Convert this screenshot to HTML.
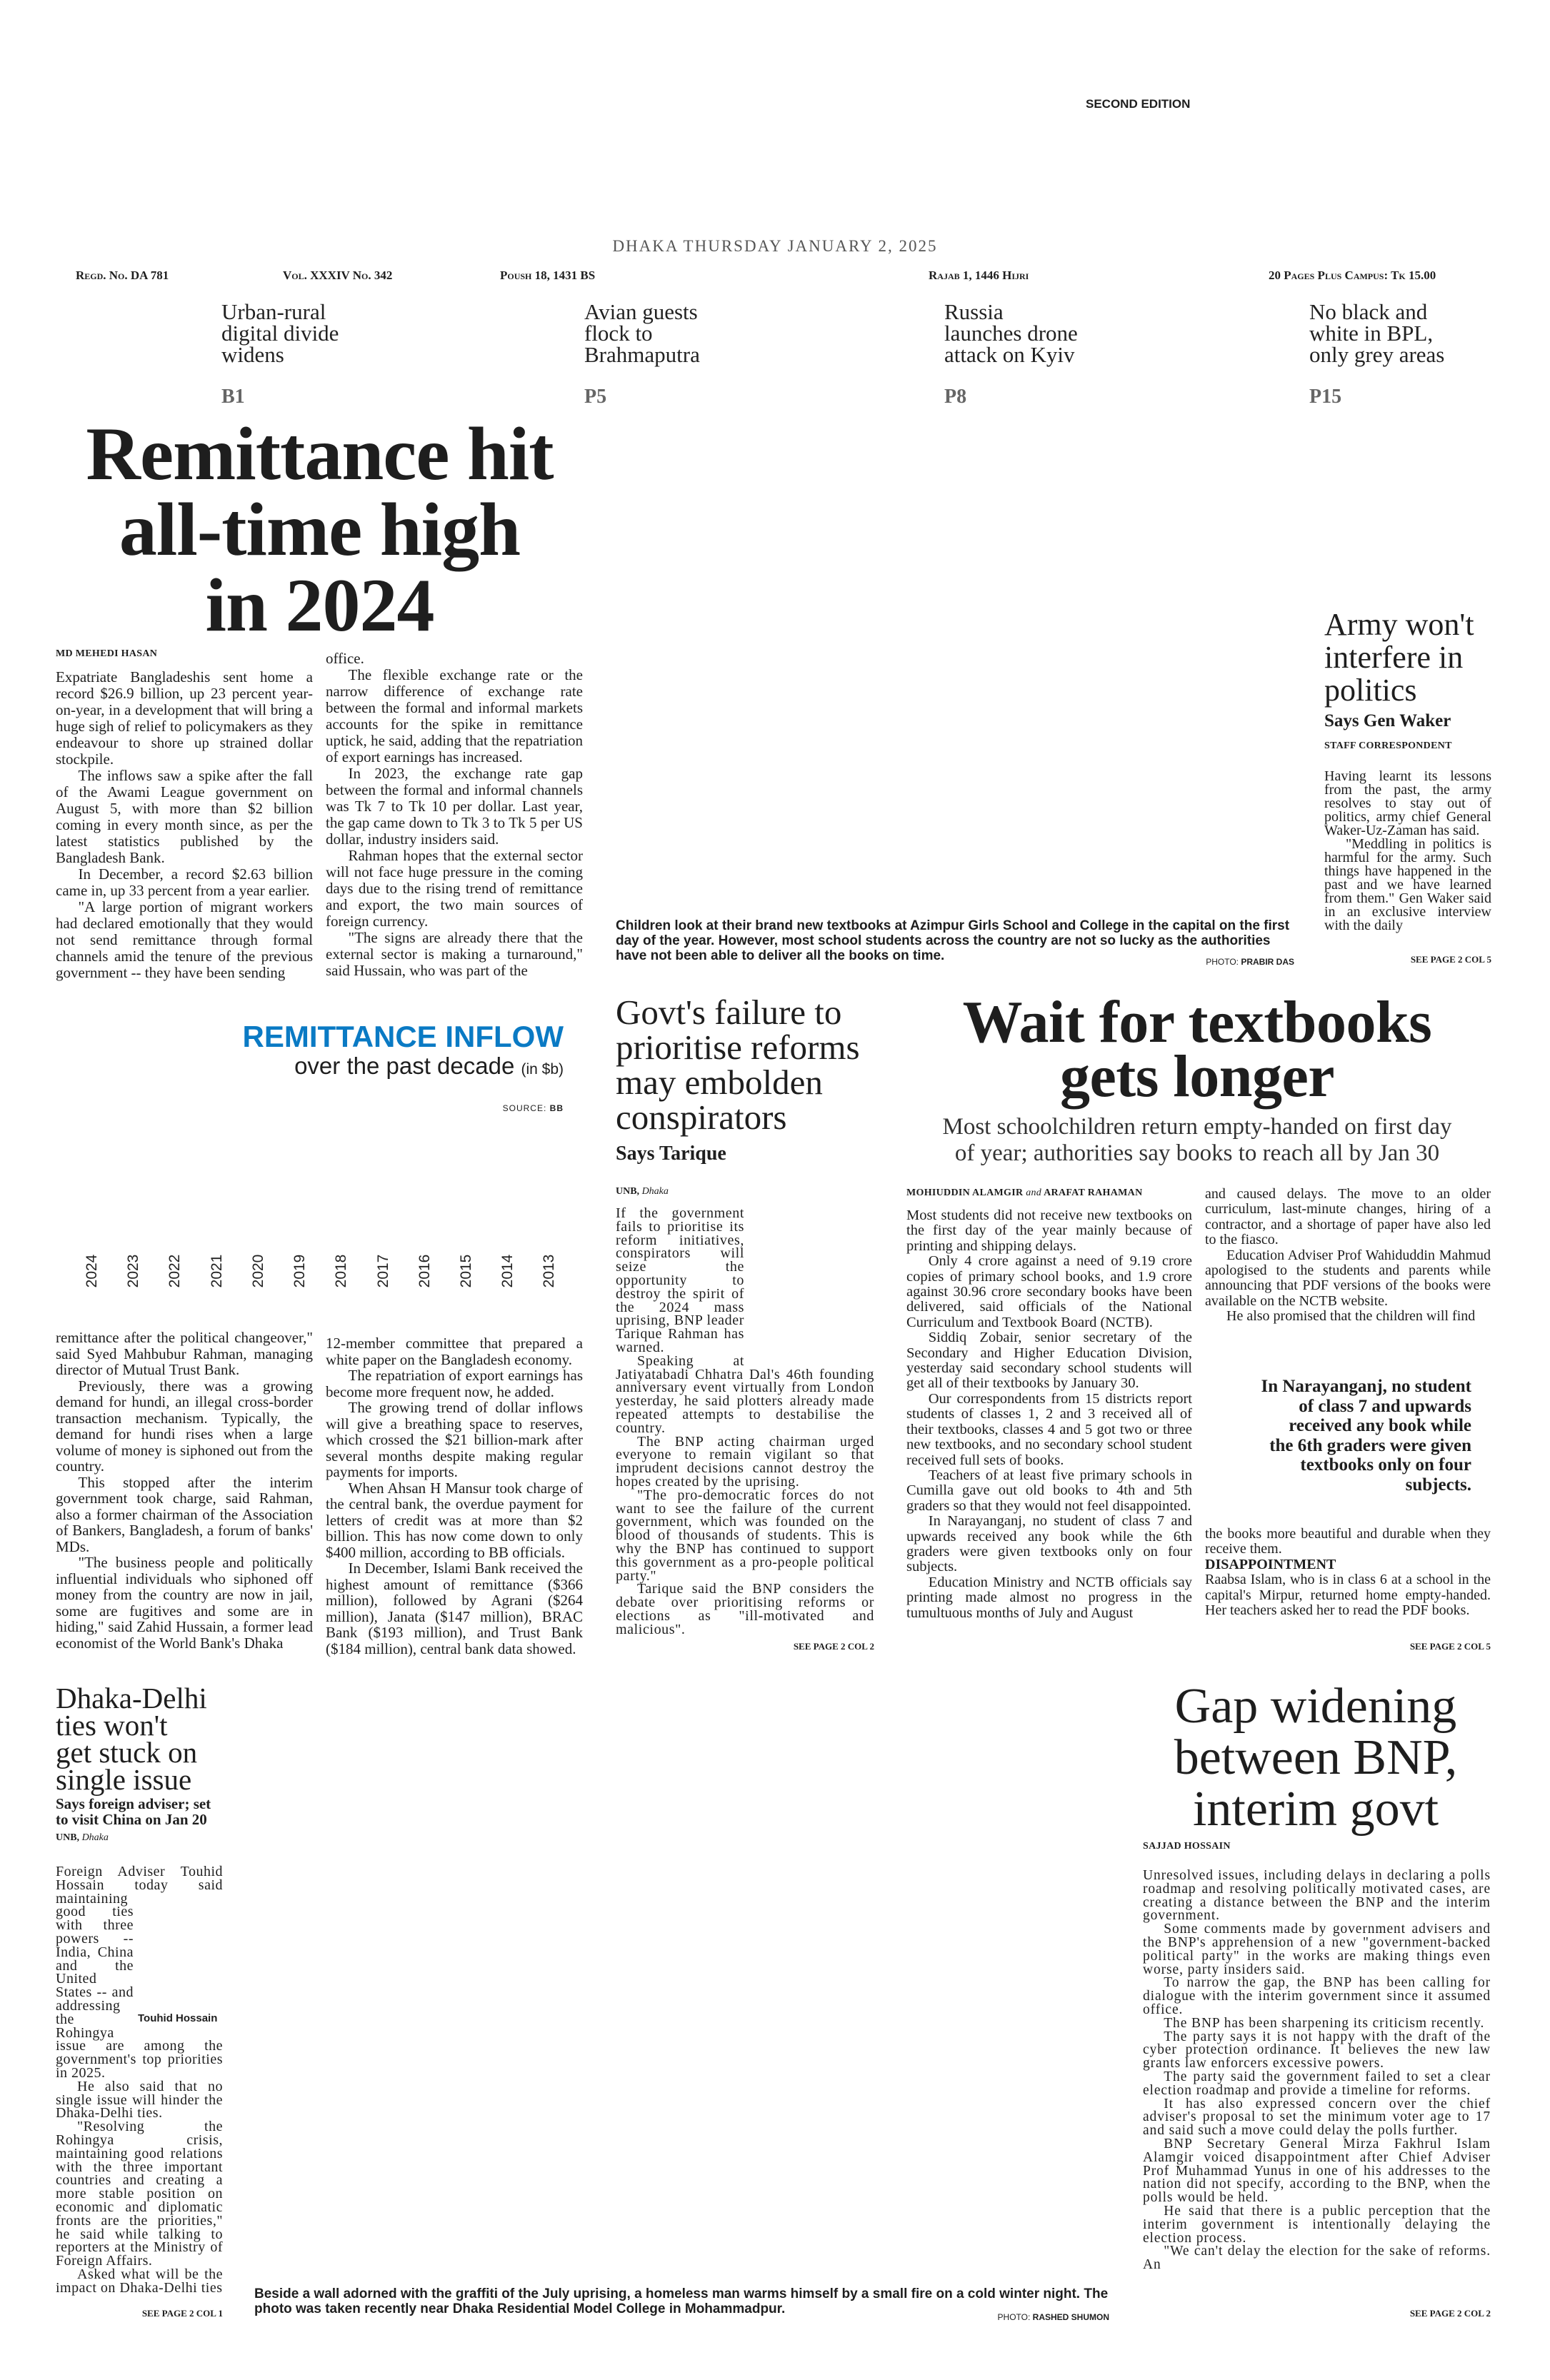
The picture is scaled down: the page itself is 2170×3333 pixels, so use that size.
<!DOCTYPE html>
<html><head><meta charset="utf-8">
<style>
*{margin:0;padding:0;box-sizing:border-box}
body{width:2170px;height:3333px;background:#fff;position:relative;overflow:hidden;color:#1e1e1e;font-family:"Liberation Serif",serif}
.a{position:absolute}
.j{text-align:justify}
.j p{text-indent:1.5em}
.j p.ni{text-indent:0}
.sans{font-family:"Liberation Sans",sans-serif}
.nar{font-family:"Liberation Sans Narrow","Liberation Sans",sans-serif}
.sc{font-variant:small-caps;font-weight:bold}
.tz{font-size:31px;line-height:30px;color:#222}
.pg{font-size:28px;font-weight:bold;color:#666}
.by{font-weight:bold;font-size:14px;letter-spacing:.3px}
.see{font-weight:bold;font-size:13px;text-align:right}
.yr{position:absolute;top:1768px;width:60px;text-align:center;font-family:"Liberation Sans Narrow","Liberation Sans",sans-serif;font-size:21px;transform:rotate(-90deg);color:#222}
</style></head><body>

<div class="a sans" style="left:1520px;top:136px;font-size:17px;font-weight:bold">SECOND EDITION</div>
<div class="a" style="left:0;width:2170px;top:332px;text-align:center;font-size:23px;letter-spacing:2px;color:#555">DHAKA THURSDAY JANUARY 2, 2025</div>

<div class="a sc" style="left:106px;top:376px;font-size:17px">Regd. No. DA 781</div>
<div class="a sc" style="left:396px;top:376px;font-size:17px">Vol. XXXIV No. 342</div>
<div class="a sc" style="left:700px;top:376px;font-size:17px">Poush 18, 1431 BS</div>
<div class="a sc" style="left:1300px;top:376px;font-size:17px">Rajab 1, 1446 Hijri</div>
<div class="a sc" style="left:1776px;top:376px;font-size:17px">20 Pages Plus Campus: Tk 15.00</div>

<div class="a tz" style="left:310px;top:422px">Urban-rural<br>digital divide<br>widens</div>
<div class="a tz" style="left:818px;top:422px">Avian guests<br>flock to<br>Brahmaputra</div>
<div class="a tz" style="left:1322px;top:422px">Russia<br>launches drone<br>attack on Kyiv</div>
<div class="a tz" style="left:1833px;top:422px">No black and<br>white in BPL,<br>only grey areas</div>
<div class="a pg" style="left:310px;top:540px">B1</div>
<div class="a pg" style="left:818px;top:540px">P5</div>
<div class="a pg" style="left:1322px;top:540px">P8</div>
<div class="a pg" style="left:1833px;top:540px">P15</div>

<div class="a" style="left:40px;width:815px;top:583px;text-align:center;font-size:106px;line-height:106px;font-weight:bold;letter-spacing:-1px">Remittance hit<br>all-time high<br>in 2024</div>

<div class="a by" style="left:78px;top:908px">MD MEHEDI HASAN</div>
<div class="a j" style="left:78px;top:937px;width:360px;height:445px;overflow:hidden;font-size:21px;line-height:23px">
<p class="ni">Expatriate Bangladeshis sent home a record $26.9 billion, up 23 percent year-on-year, in a development that will bring a huge sigh of relief to policymakers as they endeavour to shore up strained dollar stockpile.</p>
<p>The inflows saw a spike after the fall of the Awami League government on August 5, with more than $2 billion coming in every month since, as per the latest statistics published by the Bangladesh Bank.</p>
<p>In December, a record $2.63 billion came in, up 33 percent from a year earlier.</p>
<p>"A large portion of migrant workers had declared emotionally that they would not send remittance through formal channels amid the tenure of the previous government -- they have been sending</p></div>
<div class="a j" style="left:456px;top:911px;width:360px;height:470px;overflow:hidden;font-size:21px;line-height:23px">
<p class="ni">office.</p>
<p>The flexible exchange rate or the narrow difference of exchange rate between the formal and informal markets accounts for the spike in remittance uptick, he said, adding that the repatriation of export earnings has increased.</p>
<p>In 2023, the exchange rate gap between the formal and informal channels was Tk 7 to Tk 10 per dollar. Last year, the gap came down to Tk 3 to Tk 5 per US dollar, industry insiders said.</p>
<p>Rahman hopes that the external sector will not face huge pressure in the coming days due to the rising trend of remittance and export, the two main sources of foreign currency.</p>
<p>"The signs are already there that the external sector is making a turnaround," said Hussain, who was part of the</p></div>

<div class="a" style="left:200px;top:1428px;text-align:right;width:589px">
<div class="sans" style="font-size:42px;font-weight:bold;color:#0a7ac4;line-height:48px">REMITTANCE INFLOW</div>
<div class="nar" style="font-size:33px;line-height:34px">over the past decade <span style="font-size:21px">(in $b)</span></div>
<div class="sans" style="font-size:12px;letter-spacing:1px;margin-top:30px">SOURCE: <b>BB</b></div>
</div>
<div class="yr" style="left:99px">2024</div>
<div class="yr" style="left:157px">2023</div>
<div class="yr" style="left:215px">2022</div>
<div class="yr" style="left:274px">2021</div>
<div class="yr" style="left:332px">2020</div>
<div class="yr" style="left:390px">2019</div>
<div class="yr" style="left:448px">2018</div>
<div class="yr" style="left:507px">2017</div>
<div class="yr" style="left:565px">2016</div>
<div class="yr" style="left:623px">2015</div>
<div class="yr" style="left:681px">2014</div>
<div class="yr" style="left:739px">2013</div>

<div class="a j" style="left:78px;top:1862px;width:360px;height:460px;overflow:hidden;font-size:21px;line-height:22.5px">
<p class="ni">remittance after the political changeover," said Syed Mahbubur Rahman, managing director of Mutual Trust Bank.</p>
<p>Previously, there was a growing demand for hundi, an illegal cross-border transaction mechanism. Typically, the demand for hundi rises when a large volume of money is siphoned out from the country.</p>
<p>This stopped after the interim government took charge, said Rahman, also a former chairman of the Association of Bankers, Bangladesh, a forum of banks' MDs.</p>
<p>"The business people and politically influential individuals who siphoned off money from the country are now in jail, some are fugitives and some are in hiding," said Zahid Hussain, a former lead economist of the World Bank's Dhaka</p></div>
<div class="a j" style="left:456px;top:1870px;width:360px;height:460px;overflow:hidden;font-size:21px;line-height:22.5px">
<p class="ni">12-member committee that prepared a white paper on the Bangladesh economy.</p>
<p>The repatriation of export earnings has become more frequent now, he added.</p>
<p>The growing trend of dollar inflows will give a breathing space to reserves, which crossed the $21 billion-mark after several months despite making regular payments for imports.</p>
<p>When Ahsan H Mansur took charge of the central bank, the overdue payment for letters of credit was at more than $2 billion. This has now come down to only $400 million, according to BB officials.</p>
<p>In December, Islami Bank received the highest amount of remittance ($366 million), followed by Agrani ($264 million), Janata ($147 million), BRAC Bank ($193 million), and Trust Bank ($184 million), central bank data showed.</p></div>

<div class="a nar" style="left:862px;top:1286px;width:952px;font-size:19px;line-height:21px;font-weight:bold">Children look at their brand new textbooks at Azimpur Girls School and College in the capital on the first day of the year. However, most school students across the country are not so lucky as the authorities have not been able to deliver all the books on time.</div>
<div class="a sans" style="left:1500px;width:312px;top:1340px;text-align:right;font-size:12px">PHOTO: <b>PRABIR DAS</b></div>

<div class="a" style="left:1854px;top:852px;width:240px;font-size:44px;line-height:46px">Army won't<br>interfere in<br>politics</div>
<div class="a" style="left:1854px;top:996px;font-size:25px;font-weight:bold">Says Gen Waker</div>
<div class="a by" style="left:1854px;top:1037px">STAFF CORRESPONDENT</div>
<div class="a j" style="left:1854px;top:1078px;width:234px;height:265px;overflow:hidden;font-size:20px;line-height:19px">
<p class="ni">Having learnt its lessons from the past, the army resolves to stay out of politics, army chief General Waker-Uz-Zaman has said.</p>
<p>"Meddling in politics is harmful for the army. Such things have happened in the past and we have learned from them." Gen Waker said in an exclusive interview with the daily</p></div>
<div class="a see" style="left:1854px;width:234px;top:1336px">SEE PAGE 2 COL 5</div>

<div class="a" style="left:862px;top:1393px;width:380px;font-size:49px;line-height:49px">Govt's failure to<br>prioritise reforms<br>may embolden<br>conspirators</div>
<div class="a" style="left:862px;top:1600px;font-size:28px;font-weight:bold">Says Tarique</div>
<div class="a" style="left:862px;top:1661px;font-size:14px"><b>UNB,</b> <i>Dhaka</i></div>
<div class="a j" style="left:862px;top:1690px;width:362px;height:610px;overflow:hidden;font-size:20px;line-height:18.8px;letter-spacing:.6px">
<div style="float:right;width:182px;height:216px"></div>
<p class="ni">If the government fails to prioritise its reform initiatives, conspirators will seize the opportunity to destroy the spirit of the 2024 mass uprising, BNP leader Tarique Rahman has warned.</p>
<p>Speaking at Jatiyatabadi Chhatra Dal's 46th founding anniversary event virtually from London yesterday, he said plotters already made repeated attempts to destabilise the country.</p>
<p>The BNP acting chairman urged everyone to remain vigilant so that imprudent decisions cannot destroy the hopes created by the uprising.</p>
<p>"The pro-democratic forces do not want to see the failure of the current government, which was founded on the blood of thousands of students. This is why the BNP has continued to support this government as a pro-people political party."</p>
<p>Tarique said the BNP considers the debate over prioritising reforms or elections as "ill-motivated and malicious".</p></div>
<div class="a see" style="left:862px;width:362px;top:2298px">SEE PAGE 2 COL 2</div>

<div class="a" style="left:1260px;width:832px;top:1394px;text-align:center;font-size:84px;line-height:76px;font-weight:bold;letter-spacing:-.5px">Wait for textbooks<br>gets longer</div>
<div class="a" style="left:1240px;width:872px;top:1560px;text-align:center;font-size:33px;line-height:37px;color:#333">Most schoolchildren return empty-handed on first day<br>of year; authorities say books to reach all by Jan 30</div>
<div class="a by" style="left:1269px;top:1663px">MOHIUDDIN ALAMGIR <i style="font-weight:normal">and</i> ARAFAT RAHAMAN</div>
<div class="a j" style="left:1269px;top:1692px;width:400px;height:612px;overflow:hidden;font-size:20.5px;line-height:21.4px">
<p class="ni">Most students did not receive new textbooks on the first day of the year mainly because of printing and shipping delays.</p>
<p>Only 4 crore against a need of 9.19 crore copies of primary school books, and 1.9 crore against 30.96 crore secondary books have been delivered, said officials of the National Curriculum and Textbook Board (NCTB).</p>
<p>Siddiq Zobair, senior secretary of the Secondary and Higher Education Division, yesterday said secondary school students will get all of their textbooks by January 30.</p>
<p>Our correspondents from 15 districts report students of classes 1, 2 and 3 received all of their textbooks, classes 4 and 5 got two or three new textbooks, and no secondary school student received full sets of books.</p>
<p>Teachers of at least five primary schools in Cumilla gave out old books to 4th and 5th graders so that they would not feel disappointed.</p>
<p>In Narayanganj, no student of class 7 and upwards received any book while the 6th graders were given textbooks only on four subjects.</p>
<p>Education Ministry and NCTB officials say printing made almost no progress in the tumultuous months of July and August</p></div>
<div class="a j" style="left:1687px;top:1662px;width:400px;height:215px;overflow:hidden;font-size:20px;line-height:21.4px">
<p class="ni">and caused delays. The move to an older curriculum, last-minute changes, hiring of a contractor, and a shortage of paper have also led to the fiasco.</p>
<p>Education Adviser Prof Wahiduddin Mahmud apologised to the students and parents while announcing that PDF versions of the books were available on the NCTB website.</p>
<p>He also promised that the children will find</p></div>
<div class="a" style="left:1700px;width:360px;top:1928px;text-align:right;font-size:25px;line-height:27.5px;font-weight:bold">In Narayanganj, no student<br>of class 7 and upwards<br>received any book while<br>the 6th graders were given<br>textbooks only on four<br>subjects.</div>
<div class="a j" style="left:1687px;top:2138px;width:400px;height:160px;overflow:hidden;font-size:20px;line-height:21.4px">
<p class="ni">the books more beautiful and durable when they receive them.</p>
<p class="ni" style="font-weight:bold">DISAPPOINTMENT</p>
<p class="ni">Raabsa Islam, who is in class 6 at a school in the capital's Mirpur, returned home empty-handed. Her teachers asked her to read the PDF books.</p></div>
<div class="a see" style="left:1687px;width:400px;top:2298px">SEE PAGE 2 COL 5</div>

<div class="a" style="left:78px;top:2359px;width:260px;font-size:41px;line-height:38px">Dhaka-Delhi<br>ties won't<br>get stuck on<br>single issue</div>
<div class="a" style="left:78px;top:2515px;width:250px;font-size:21px;line-height:22px;font-weight:bold">Says foreign adviser; set<br>to visit China on Jan 20</div>
<div class="a" style="left:78px;top:2566px;font-size:14px"><b>UNB,</b> <i>Dhaka</i></div>
<div class="a j" style="left:78px;top:2612px;width:234px;height:618px;overflow:hidden;font-size:20px;line-height:18.8px;letter-spacing:.5px">
<div style="float:right;width:0;height:56px"></div>
<div style="float:right;clear:right;width:125px;height:170px"></div>
<p class="ni">Foreign Adviser Touhid Hossain today said maintaining good ties with three powers -- India, China and the United States -- and addressing the Rohingya issue are among the government's top priorities in 2025.</p>
<p>He also said that no single issue will hinder the Dhaka-Delhi ties.</p>
<p>"Resolving the Rohingya crisis, maintaining good relations with the three important countries and creating a more stable position on economic and diplomatic fronts are the priorities," he said while talking to reporters at the Ministry of Foreign Affairs.</p>
<p>Asked what will be the impact on Dhaka-Delhi ties</p></div>
<div class="a sans" style="left:193px;top:2818px;font-size:15px;font-weight:bold;white-space:nowrap">Touhid Hossain</div>
<div class="a see" style="left:78px;width:234px;top:3232px">SEE PAGE 2 COL 1</div>

<div class="a nar" style="left:356px;top:3202px;width:1200px;font-size:19px;line-height:21px;font-weight:bold">Beside a wall adorned with the graffiti of the July uprising, a homeless man warms himself by a small fire on a cold winter night. The photo was taken recently near Dhaka Residential Model College in Mohammadpur.</div>
<div class="a sans" style="left:1250px;width:303px;top:3238px;text-align:right;font-size:12px">PHOTO: <b>RASHED SHUMON</b></div>

<div class="a" style="left:1590px;width:504px;top:2354px;text-align:center;font-size:70px;line-height:72px">Gap widening<br>between BNP,<br>interim govt</div>
<div class="a by" style="left:1600px;top:2578px">SAJJAD HOSSAIN</div>
<div class="a j" style="left:1600px;top:2618px;width:487px;height:608px;overflow:hidden;font-size:19.5px;line-height:18.8px;letter-spacing:.9px">
<p class="ni">Unresolved issues, including delays in declaring a polls roadmap and resolving politically motivated cases, are creating a distance between the BNP and the interim government.</p>
<p>Some comments made by government advisers and the BNP's apprehension of a new "government-backed political party" in the works are making things even worse, party insiders said.</p>
<p>To narrow the gap, the BNP has been calling for dialogue with the interim government since it assumed office.</p>
<p>The BNP has been sharpening its criticism recently.</p>
<p>The party says it is not happy with the draft of the cyber protection ordinance. It believes the new law grants law enforcers excessive powers.</p>
<p>The party said the government failed to set a clear election roadmap and provide a timeline for reforms.</p>
<p>It has also expressed concern over the chief adviser's proposal to set the minimum voter age to 17 and said such a move could delay the polls further.</p>
<p>BNP Secretary General Mirza Fakhrul Islam Alamgir voiced disappointment after Chief Adviser Prof Muhammad Yunus in one of his addresses to the nation did not specify, according to the BNP, when the polls would be held.</p>
<p>He said that there is a public perception that the interim government is intentionally delaying the election process.</p>
<p>"We can't delay the election for the sake of reforms. An</p></div>
<div class="a see" style="left:1600px;width:487px;top:3232px">SEE PAGE 2 COL 2</div>

</body></html>
